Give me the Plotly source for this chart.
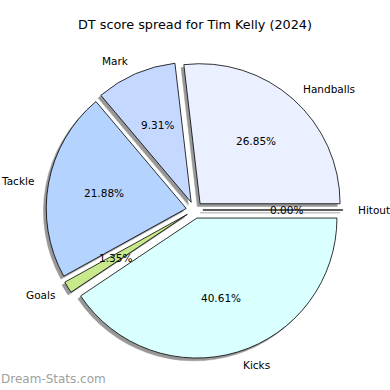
import numpy as np
import plotly.graph_objects as go

# ---- data ----
labels = ["Hitout", "Handballs", "Mark", "Tackle", "Goals", "Kicks"]
values = [0.00, 26.85, 9.31, 21.88, 1.35, 40.61]
colors = ["#e8e8ff", "#eaf0ff", "#c5d8ff", "#b4d4ff", "#c8e88c", "#d9ffff"]
title_text = "DT score spread for Tim Kelly (2024)"
watermark = "Dream-Stats.com"

# ---- layout geometry (pixels) ----
W = H = 390
cx, cy = 194.5, 210.0      # pie centre
R = 140.0                  # pie radius
pull = 0.06                # explode fraction
shadow_off = 2.8
shadow_col = "rgb(152,152,152)"

half = R * (1 + pull)

def dom(x0, y0):
    return dict(x=[(x0 - half) / W, (x0 + half) / W],
                y=[1 - (y0 + half) / H, 1 - (y0 - half) / H])

fig = go.Figure()
# shadow
fig.add_trace(go.Pie(values=values, labels=labels, sort=False,
                     direction="counterclockwise", rotation=90,
                     pull=[pull] * len(values),
                     marker=dict(colors=[shadow_col] * len(values),
                                 line=dict(color=shadow_col, width=0.5)),
                     textinfo="none", hoverinfo="skip",
                     domain=dom(cx - shadow_off, cy + shadow_off)))
# pie
fig.add_trace(go.Pie(values=values, labels=labels, sort=False,
                     direction="counterclockwise", rotation=90,
                     pull=[pull] * len(values),
                     marker=dict(colors=colors, line=dict(color="black", width=0.8)),
                     textinfo="none", hoverinfo="skip",
                     domain=dom(cx, cy)))

annotations = []
total = sum(values)
start = 0.0
font = "DejaVu Sans, Verdana, sans-serif"
for lab, v in zip(labels, values):
    ang = start + 360.0 * v / total / 2
    start += 360.0 * v / total
    t = np.deg2rad(ang)
    dx, dy = np.cos(t), -np.sin(t)
    off = pull * R
    # outer label
    lx = cx + (1.1 * R + off) * dx
    ly = cy + (1.1 * R + off) * dy
    annotations.append(dict(x=lx / W, y=1 - ly / H, xref="paper", yref="paper",
                            text=lab, showarrow=False, borderpad=0,
                            xanchor="left" if dx > 0 else "right", yanchor="middle",
                            font=dict(family=font, size=10.5, color="black")))
    # percentage
    px = cx + (0.6 * R + off) * dx
    py = cy + (0.6 * R + off) * dy
    annotations.append(dict(x=px / W, y=1 - py / H, xref="paper", yref="paper",
                            text=f"{v:.2f}%", showarrow=False, borderpad=0,
                            xanchor="center", yanchor="middle",
                            font=dict(family=font, size=10.5, color="black")))

annotations.append(dict(x=0.5, y=1 - 25 / H, xref="paper", yref="paper",
                        text=title_text, showarrow=False, borderpad=0,
                        xanchor="center", yanchor="middle",
                        font=dict(family=font, size=12.8, color="black")))
annotations.append(dict(x=0, y=1 - 379 / H, xref="paper", yref="paper",
                        text=watermark, showarrow=False, borderpad=0,
                        xanchor="left", yanchor="middle",
                        font=dict(family=font, size=12, color="#a0a0a0")))

fig.update_layout(width=W, height=H, autosize=False,
                  margin=dict(l=0, r=0, t=0, b=0),
                  paper_bgcolor="white", plot_bgcolor="white",
                  showlegend=False, annotations=annotations)

fig.write_html("out.html", config={"displayModeBar": False},
               post_script="document.body.style.margin='0';document.body.style.padding='0';")
